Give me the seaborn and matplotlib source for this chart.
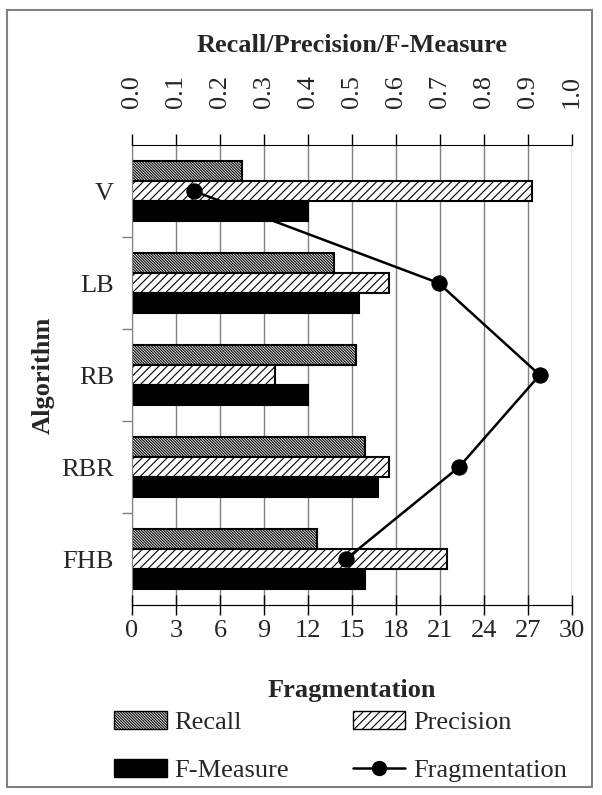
import seaborn as sns
import matplotlib.pyplot as plt
import matplotlib.patches as mpatches
import matplotlib.lines as mlines
import pandas as pd

# Data
algorithms = ['V', 'LB', 'RB', 'RBR', 'FHB']
recall = [0.25, 0.46, 0.51, 0.53, 0.42]
precision = [0.91, 0.585, 0.325, 0.585, 0.715]
f_measure = [0.40, 0.515, 0.40, 0.56, 0.53]
fragmentation = [4.2, 20.9, 27.8, 22.3, 14.6]
metric_names = ['Recall', 'Precision', 'F-Measure']

df = pd.DataFrame({
    'algorithm': algorithms * 3,
    'metric': [m for m in metric_names for _ in algorithms],
    'value': recall + precision + f_measure,
})

FS = 19
sns.set_style('white')
plt.rcParams['font.family'] = ['Liberation Serif', 'DejaVu Serif']
plt.rcParams['font.size'] = FS
plt.rcParams['hatch.color'] = 'black'
plt.rcParams['hatch.linewidth'] = 0.8

fig = plt.figure(figsize=(6.02, 7.95), dpi=100)
ax = fig.add_axes([132/602, 1 - 605/795, 440/602, 460/795])

# bars
sns.barplot(data=df, y='algorithm', x='value', hue='metric', order=algorithms,
            hue_order=metric_names, orient='h', width=0.65, gap=0,
            palette=['white', 'white', 'black'], edgecolor='black',
            linewidth=1.5, saturation=1, legend=False, ax=ax)

hatches = ['\\' * 12, '////', '']
for cont, h in zip(ax.containers, hatches):
    for bar in cont:
        bar.set_hatch(h)
        bar.set_zorder(2)

# fragmentation line on the secondary x axis
ax2 = ax.twiny()
sns.lineplot(x=fragmentation, y=list(range(len(algorithms))), sort=False,
             color='black', linewidth=1.8, marker='o', markersize=11,
             markeredgecolor='black', ax=ax2)
ax2.set_xlim(0, 30)
ax2.set_ylim(4.5, -0.5)
ax2.set_xticks(range(0, 31, 3))
ax2.xaxis.set_ticks_position('bottom')
ax2.xaxis.set_label_position('bottom')
ax2.tick_params(axis='x', direction='inout', length=14, width=1,
                color='black', pad=4, labelsize=FS)
for side in ['right', 'left', 'top']:
    ax2.spines[side].set_visible(False)
ax2.spines['bottom'].set_color('black')
ax2.set_xlabel('Fragmentation', fontweight='bold', fontsize=FS)
ax2.xaxis.set_label_coords(0.5, (605 - 691) / 460)
ax2.xaxis.label.set_va('center')

# primary (metric) axis on top
ax.set_xlim(0, 1)
ax.set_ylim(4.5, -0.5)
ax.xaxis.set_ticks_position('top')
ax.xaxis.set_label_position('top')
ax.set_xticks([i / 10 for i in range(11)])
ax.set_xticklabels([f'{i / 10:.1f}' for i in range(11)], rotation=90)
ax.tick_params(axis='x', which='major', top=True, bottom=False,
               labeltop=True, labelbottom=False, direction='out', length=8,
               width=1, color='black', pad=19, labelsize=FS)
ax.grid(axis='x', color='#808080', linewidth=1)
ax.set_axisbelow(True)

# category labels centered, ticks at boundaries
ax.set_yticks(range(len(algorithms)))
ax.set_yticklabels(algorithms)
ax.set_yticks([i + 0.5 for i in range(len(algorithms) - 1)], minor=True)
ax.tick_params(axis='y', which='major', length=0, pad=13, labelsize=FS)
ax.tick_params(axis='y', which='minor', left=True, length=7, width=1,
               color='#808080', direction='out')

ax.spines['right'].set_visible(False)
ax.spines['left'].set_color('#808080')
ax.spines['top'].set_color('black')
ax.spines['bottom'].set_color('black')

ax.set_xlabel('Recall/Precision/F-Measure', fontweight='bold', fontsize=FS)
ax.xaxis.set_label_coords(0.5, (605 - 45) / 460)
ax.xaxis.label.set_va('center')
ax.set_ylabel('Algorithm', fontweight='bold', fontsize=FS)
ax.yaxis.set_label_coords((43 - 132) / 440, 0.5)
ax.yaxis.label.set_va('center')

# legend
handles = [
    mpatches.Patch(facecolor='white', edgecolor='black', hatch=hatches[0], label='Recall'),
    mpatches.Patch(facecolor='black', edgecolor='black', label='F-Measure'),
    mpatches.Patch(facecolor='white', edgecolor='black', hatch=hatches[1], label='Precision'),
    mlines.Line2D([], [], color='black', marker='o', markersize=10, linewidth=1.8,
                  label='Fragmentation'),
]
fig.legend(handles=handles, loc='upper left', ncol=2, frameon=False,
           bbox_to_anchor=(114 / 602, 1 - 711 / 795), borderaxespad=0,
           borderpad=0, handlelength=2.0, handleheight=0.65, handletextpad=0.3,
           columnspacing=2.4, labelspacing=0.95, fontsize=FS)

# outer chart frame
fig.patches.append(mpatches.Rectangle((7 / 602, 8 / 795), 585 / 602, 777 / 795,
                                      transform=fig.transFigure, fill=False,
                                      edgecolor='#808080', linewidth=1.5))

fig.savefig('out.png', dpi=100)
